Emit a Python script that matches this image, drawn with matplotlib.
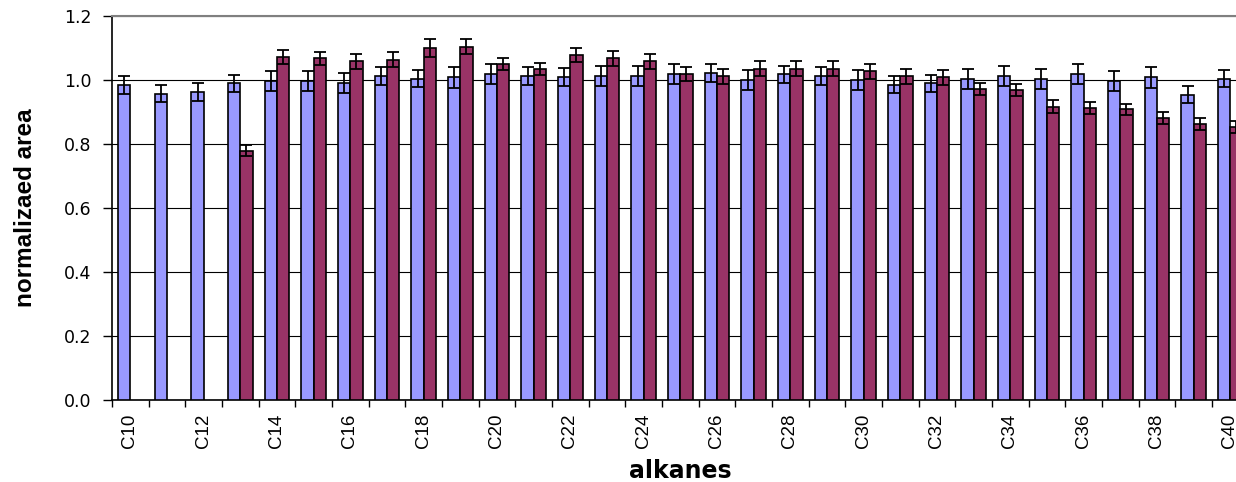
#!/usr/bin/env python3
# -*- coding: utf-8 -*-

import numpy as np
import matplotlib

matplotlib.use("Agg")
import matplotlib.pyplot as plt

alkanes = [f"C{n}" for n in range(10, 41)]

# normalized areas, first series (blue)
area_a = [0.984, 0.957, 0.962, 0.990, 0.997, 0.997, 0.990, 1.012, 1.004, 1.008,
          1.018, 1.012, 1.008, 1.012, 1.012, 1.018, 1.022, 1.000, 1.018, 1.012,
          1.000, 0.985, 0.990, 1.004, 1.012, 1.004, 1.018, 0.997, 1.008, 0.954,
          1.004]
err_a = [0.029, 0.027, 0.028, 0.027, 0.030, 0.030, 0.032, 0.028, 0.027, 0.032,
         0.032, 0.028, 0.028, 0.032, 0.032, 0.032, 0.028, 0.031, 0.027, 0.028,
         0.031, 0.027, 0.027, 0.031, 0.032, 0.031, 0.032, 0.030, 0.032, 0.027,
         0.027]

# second series (maroon), nothing for C10-C12
area_b = [np.nan, np.nan, np.nan, 0.779, 1.072, 1.068, 1.058, 1.064, 1.099, 1.104,
          1.049, 1.035, 1.077, 1.068, 1.058, 1.018, 1.012, 1.035, 1.035, 1.035,
          1.027, 1.012, 1.008, 0.972, 0.968, 0.917, 0.912, 0.908, 0.880, 0.862,
          0.854]
err_b = [np.nan, np.nan, np.nan, 0.018, 0.023, 0.021, 0.024, 0.022, 0.028, 0.023,
         0.019, 0.019, 0.022, 0.023, 0.024, 0.022, 0.023, 0.023, 0.023, 0.023,
         0.023, 0.023, 0.023, 0.019, 0.018, 0.019, 0.019, 0.018, 0.019, 0.019,
         0.019]

BLUE = "#9999FF"
MAROON = "#993366"


def main():
    fig = plt.figure(figsize=(12.36, 4.82), dpi=100)
    # plot area runs past the right edge of the picture, like the original
    ax = fig.add_axes([112 / 1236, 82 / 482, 1136.7 / 1236, 384 / 482])

    x = np.arange(len(alkanes))
    w = 1 / 3
    err_kw = dict(ecolor="black", elinewidth=1.3, capsize=4.6, capthick=1.3)
    ax.bar(x - w / 2, area_a, w, yerr=err_a, color=BLUE, edgecolor="black",
           linewidth=1.2, error_kw=err_kw, zorder=3)
    ax.bar(x + w / 2, area_b, w, yerr=err_b, color=MAROON, edgecolor="black",
           linewidth=1.2, error_kw=err_kw, zorder=3)

    ax.set_xlim(-0.5, len(alkanes) - 0.5)
    ax.set_ylim(0, 1.2)

    # y axis
    yticks = np.arange(0, 1.21, 0.2)
    ax.set_yticks(yticks)
    ax.set_yticklabels([f"{v:.1f}" for v in yticks],
                       fontfamily="DejaVu Sans", fontsize=12.5)
    ax.tick_params(axis="y", direction="out", length=6.5, width=1.0, pad=8.5)
    ax.grid(axis="y", color="black", linewidth=0.8)
    ax.set_axisbelow(True)

    # x axis: marks between categories, labels on every other category
    ax.set_xticks(np.arange(len(alkanes) + 1) - 0.5)
    ax.set_xticklabels([])
    ax.tick_params(axis="x", which="major", direction="out", length=5, width=1.0)
    ax.set_xticks(x[::2] - 0.01, minor=True)
    ax.set_xticklabels(alkanes[::2], minor=True, rotation=90,
                       fontfamily="Liberation Sans", fontsize=13.5)
    ax.tick_params(axis="x", which="minor", length=0, pad=10)

    for side in ("left", "bottom"):
        ax.spines[side].set_color("black")
        ax.spines[side].set_linewidth(1.2)
    ax.spines["top"].set_color("#808080")
    ax.spines["top"].set_linewidth(1.5)
    ax.spines["right"].set_visible(False)

    ax.set_ylabel("normalizaed area", fontweight="bold", fontsize=17.5,
                  fontfamily="Liberation Sans")
    ax.yaxis.set_label_coords(-0.066, 0.5)
    ax.set_xlabel("alkanes", fontweight="bold", fontsize=17,
                  fontfamily="DejaVu Sans")
    ax.xaxis.set_label_coords(0.5, -0.153)

    fig.savefig("out.png", dpi=100)


if __name__ == "__main__":
    main()
